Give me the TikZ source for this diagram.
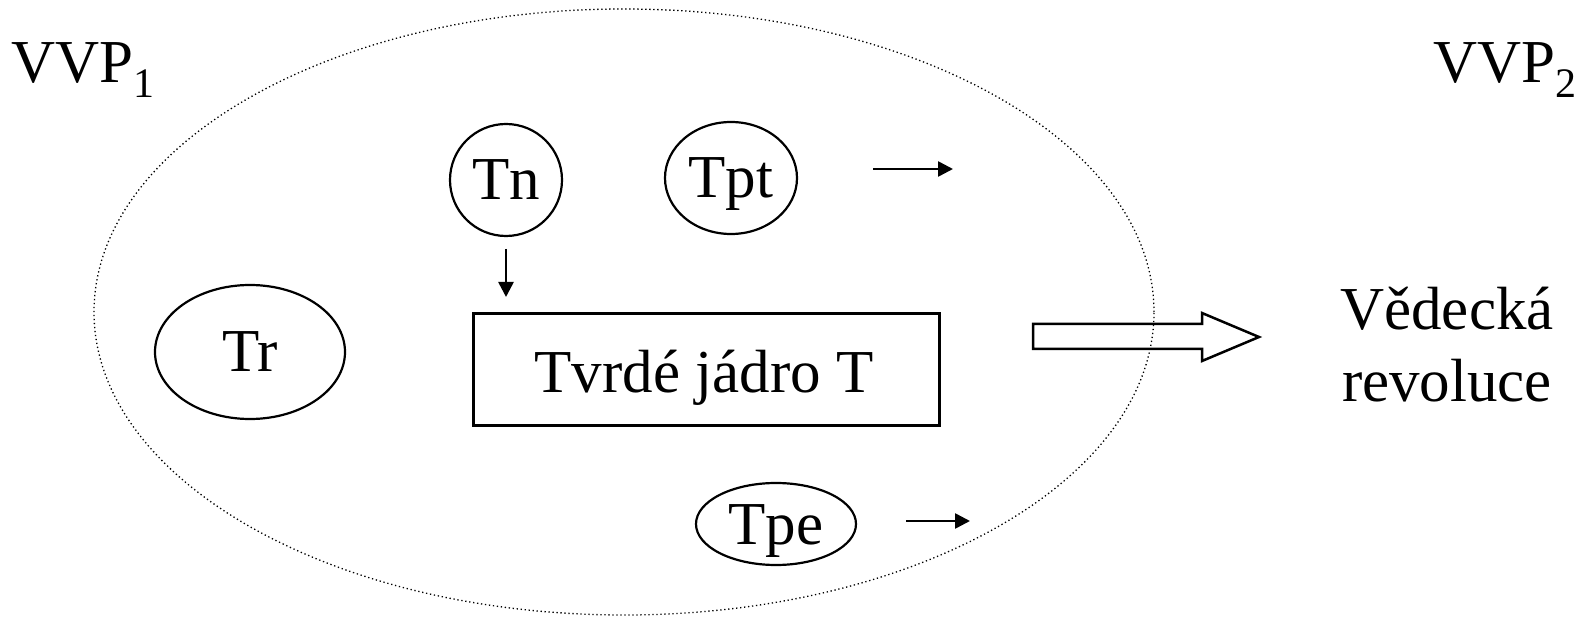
\documentclass[tikz,border=0pt]{standalone}
\usepackage{fontspec}
\setmainfont{Liberation Serif}
\usetikzlibrary{shapes.geometric,arrows.meta}
\tikzset{
  big/.style={font=\fontsize{61}{72}\selectfont},
  oval/.style={ellipse,draw,line width=2.2pt,inner sep=0pt,big,text height=40pt,text depth=0pt},
  core/.style={rectangle,draw,line width=2.5pt,inner sep=0pt,big},
  thinarrow/.style={line width=2.6pt,-{Triangle[length=15pt,width=15pt]}},
  dotline/.style={line width=1.3pt,dash pattern=on 1.3pt off 2.7pt},
  label/.style={big,inner sep=0pt,anchor=base west}
}
\newcommand{\sbs}[1]{\raisebox{-15pt}{\fontsize{42}{42}\selectfont #1}}
\begin{document}
\begin{tikzpicture}[x=1pt,y=-1pt]
\useasboundingbox (0,0) rectangle (1593,617);
% outer dotted ellipse
\node[ellipse,draw,dotline,minimum width=1060pt,minimum height=606pt,inner sep=0pt] (vvp) at (624,312) {};
% labels
\node[label] (vvp1) at (11,83) {VVP\sbs{1}};
\node[label] (vvp2) at (1433,83) {VVP\sbs{2}};
% inner nodes
\node[oval,minimum width=112pt,minimum height=112pt] (tn) at (506,180) {Tn};
\node[oval,minimum width=132pt,minimum height=112pt] (tpt) at (731,178) {Tpt};
\node[oval,minimum width=190pt,minimum height=134pt] (tr) at (250,352) {Tr};
\node[oval,minimum width=160pt,minimum height=82pt] (tpe) at (776,524) {Tpe};
\node[core,minimum width=466pt,minimum height=112pt] (core) at (706.5,369.5) {};
\node[big,inner sep=0pt,anchor=base] (coretext) at (704,392) {Tvrdé jádro T};
% result
\node[big,inner sep=0pt,align=center,anchor=base] (rev) at (1447,402) {Vědecká\\revoluce};
% thin arrows
\coordinate (a1s) at (506,249);
\coordinate (a1e) at (506,297);
\draw[thinarrow] (a1s) -- (a1e);
\coordinate (a2s) at (873,169);
\coordinate (a2e) at (953,169);
\draw[thinarrow] (a2s) -- (a2e);
\coordinate (a3s) at (906,521);
\coordinate (a3e) at (970,521);
\draw[thinarrow] (a3s) -- (a3e);
% block arrow
\draw[line width=2.5pt,line join=miter]
  (1033,324) -- (1202,324) -- (1202,313) -- (1259,337) -- (1202,361) -- (1202,349) -- (1033,349) -- cycle;
\end{tikzpicture}
\end{document}
